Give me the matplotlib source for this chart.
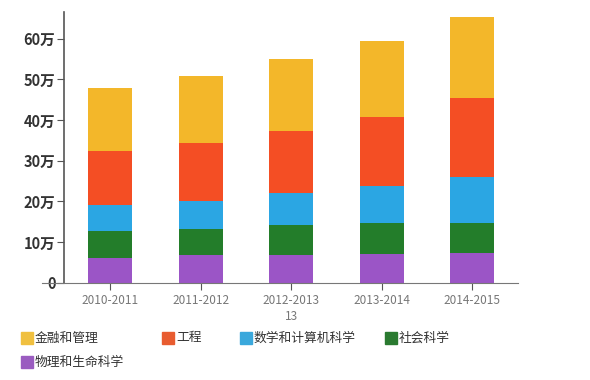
import numpy as np
import matplotlib
matplotlib.use('Agg')
import matplotlib.pyplot as plt
from matplotlib.patches import Rectangle

plt.rcParams['font.family'] = ['Noto Sans CJK SC', 'DejaVu Sans']

years = ['2010-2011', '2011-2012', '2012-2013\n13', '2013-2014', '2014-2015']
categories = ['物理和生命科学', '社会科学', '数学和计算机科学', '工程', '金融和管理']
# segment heights (万)
purple = [6.2, 6.7, 6.9, 7.1, 7.4]
green = [6.6, 6.4, 7.2, 7.5, 7.2]
blue = [6.4, 7.1, 7.9, 9.2, 11.5]
orange = [13.3, 14.1, 15.3, 16.9, 19.3]
yellow = [15.4, 16.5, 17.8, 18.7, 19.9]
series = [purple, green, blue, orange, yellow]
colors = ['#9b55c6', '#237d2a', '#2ba6e3', '#f44e24', '#f3b72a']
yticks = [0, 10, 20, 30, 40, 50, 60]
ylabels = ['0', '10万', '20万', '30万', '40万', '50万', '60万']

fig = plt.figure(figsize=(5.9, 3.8), dpi=100)
ax = fig.add_axes([0.0712, 0.256, 0.8063, 0.7124])

x = np.arange(len(years))
bottom = np.zeros(len(years))
for vals, c in zip(series, colors):
    ax.bar(x, vals, width=0.485, bottom=bottom, color=c, zorder=2)
    bottom += np.array(vals)

ax.set_xlim(-0.75, 4.5)
ax.set_ylim(0, 66.6)
for s in ['top', 'right']:
    ax.spines[s].set_visible(False)
ax.spines['left'].set_position(('data', -0.51))
ax.spines['left'].set_color('#555555')
ax.spines['bottom'].set_color('#777777')
ax.spines['left'].set_linewidth(1.2)

ax.set_yticks(yticks)
ax.set_yticklabels(ylabels, fontsize=10.5, color='#333333', fontweight='bold')
ax.tick_params(axis='y', length=5, color='#555555', pad=1)
ax.set_xticks(x)
ax.set_xticklabels(years, fontsize=8.5, color='#777777', linespacing=1.3)
ax.tick_params(axis='x', length=5, color='#555555', pad=3)

# legend, laid out by hand like the original
legend_order = ['金融和管理', '工程', '数学和计算机科学', '社会科学', '物理和生命科学']
legend_colors = ['#f0c040', '#e85c30', '#3aa8dc', '#2a7a30', '#9a5cc0']
legend_pos = [(21, 338), (162, 338), (240, 338), (385, 338), (21, 362)]
for name, c, (px, py) in zip(legend_order, legend_colors, legend_pos):
    fig.patches.append(Rectangle((px / 590, (380 - py - 6) / 380), 12 / 590, 12 / 380,
                                 transform=fig.transFigure, color=c))
    fig.text((px + 14) / 590, (380 - py) / 380, name, fontsize=9.2,
             color='#333333', va='center', ha='left', fontweight='medium')

fig.savefig('out.png', dpi=100)
